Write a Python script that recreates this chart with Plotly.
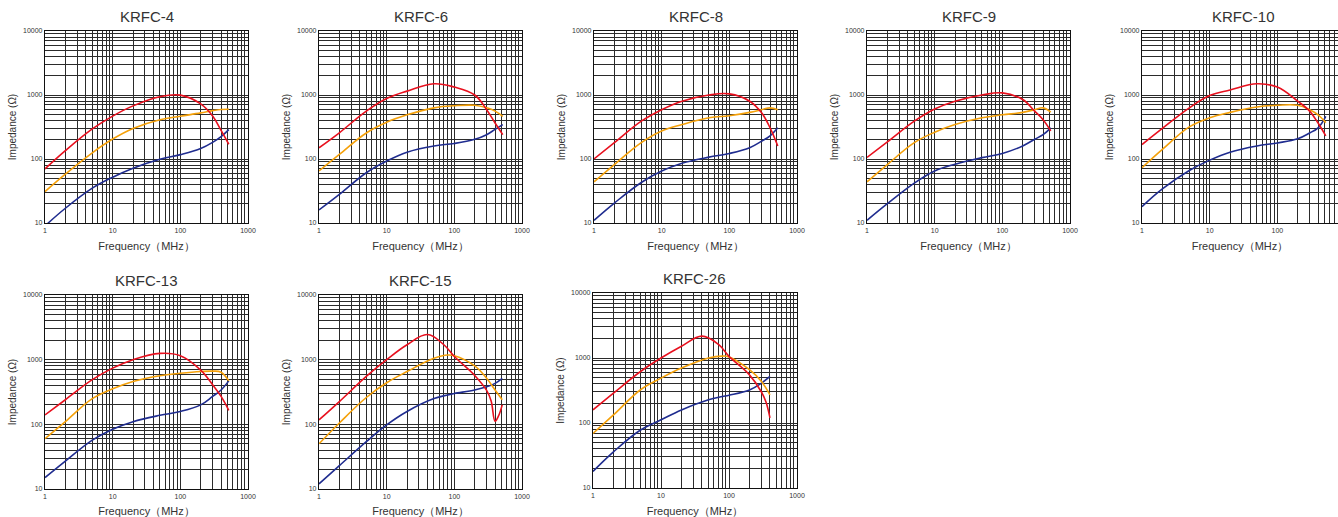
import plotly.graph_objects as go

# ---------------- data ----------------
TITLES = ["KRFC-4", "KRFC-6", "KRFC-8", "KRFC-9", "KRFC-10", "KRFC-13", "KRFC-15", "KRFC-26"]
X_TICKS = [1, 10, 100, 1000]
Y_TICKS = [10, 100, 1000, 10000]

F_STD = [1, 2, 5, 10, 20, 50, 100, 200, 300, 400, 520]

KRFC4_Z = [70, 135, 295, 468, 676, 940, 995, 725, 468, 280, 170]
KRFC4_R = [31, 58, 125, 205, 300, 410, 465, 525, 570, 595, 600]
KRFC4_X = [9, 17, 35, 52, 72, 99, 117, 146, 182, 224, 288]

KRFC6_Z = [150, 257, 560, 880, 1150, 1500, 1330, 1000, 590, 365, 240]
KRFC6_R = [65, 118, 255, 375, 490, 630, 680, 690, 630, 560, 465]
KRFC6_X = [16, 28, 61, 93, 128, 160, 175, 203, 240, 290, 345]

KRFC8_Z = [100, 180, 390, 590, 800, 1000, 1040, 800, 526, 307, 160]
KRFC8_R = [44, 82, 180, 274, 345, 440, 475, 535, 590, 630, 590]
KRFC8_X = [11, 20.5, 43, 65, 86, 107, 122, 150, 190, 230, 307]

KRFC9_Z = [106, 185, 390, 605, 800, 1000, 1080, 850, 560, 412, 275]
KRFC9_R = [44, 82, 180, 262, 345, 440, 490, 535, 590, 630, 540]
KRFC9_X = [11, 20, 42, 65, 83, 105, 122, 160, 203, 240, 307]

KRFC10_Z = [168, 300, 630, 980, 1200, 1500, 1330, 800, 560, 365, 230]
KRFC10_R = [73, 141, 317, 440, 535, 650, 690, 690, 590, 490, 370]
KRFC10_X = [18, 34, 66, 96, 128, 160, 178, 207, 255, 307, 465]

KRFC13_Z = [140, 240, 490, 740, 1000, 1250, 1150, 690, 410, 270, 165]
KRFC13_R = [60, 110, 250, 355, 460, 565, 615, 655, 665, 640, 470]
KRFC13_X = [15, 27, 57, 84, 110, 138, 158, 200, 270, 340, 470]

F_15 = [1, 2, 5, 10, 20, 40, 70, 100, 200, 300, 350, 400, 450, 510]
KRFC15_Z = [117, 225, 550, 1000, 1700, 2450, 1700, 1120, 570, 335, 230, 112, 135, 200]
F_15B = [1, 2, 5, 10, 20, 50, 80, 100, 200, 300, 400, 510]
KRFC15_R = [50, 105, 260, 440, 655, 1050, 1180, 1150, 800, 515, 340, 240]
KRFC15_X = [12, 23, 54, 98, 158, 250, 285, 300, 340, 380, 430, 515]

F_26 = [1, 2, 5, 10, 20, 40, 70, 100, 200, 300, 350, 400]
KRFC26_Z = [159, 288, 620, 1000, 1520, 2170, 1620, 1060, 550, 300, 210, 120]
F_26B = [1, 2, 5, 10, 20, 50, 80, 100, 200, 300, 400]
KRFC26_R = [69, 133, 325, 490, 700, 1000, 1070, 1040, 660, 435, 270]
KRFC26_X = [18, 36, 78, 112, 159, 228, 255, 268, 323, 410, 520]

CHARTS = [
    (F_STD, KRFC4_Z, F_STD, KRFC4_R, F_STD, KRFC4_X),
    (F_STD, KRFC6_Z, F_STD, KRFC6_R, F_STD, KRFC6_X),
    (F_STD, KRFC8_Z, F_STD, KRFC8_R, F_STD, KRFC8_X),
    (F_STD, KRFC9_Z, F_STD, KRFC9_R, F_STD, KRFC9_X),
    (F_STD, KRFC10_Z, F_STD, KRFC10_R, F_STD, KRFC10_X),
    (F_STD, KRFC13_Z, F_STD, KRFC13_R, F_STD, KRFC13_X),
    (F_15, KRFC15_Z, F_15B, KRFC15_R, F_15B, KRFC15_X),
    (F_26, KRFC26_Z, F_26B, KRFC26_R, F_26B, KRFC26_X),
]

# ---------------- layout geometry (pixels) ----------------
W, H = 1338, 517
X_PIX = [(45, 248), (319, 522), (594, 797), (867, 1070), (1142, 1338),
         (45, 248), (319, 522), (593, 797)]
Y_PIX = [(31, 223)] * 5 + [(295, 489), (295, 489), (293, 488)]

RED, ORANGE, BLUE = "#e8101e", "#f5a10a", "#1f2c8f"
GRID = "#2b2b2b"
MINOR_X = [m * 10 ** d for d in range(0, 3) for m in range(2, 10)]
MINOR_Y = [m * 10 ** d for d in range(1, 4) for m in range(2, 10)]

fig = go.Figure()
layout = dict(
    width=W, height=H, margin=dict(l=0, r=0, t=0, b=0, autoexpand=False),
    paper_bgcolor="white", plot_bgcolor="white", showlegend=False,
    font=dict(family="Liberation Sans, Arial, sans-serif", color="#333"),
)
annotations = []

for i, (title, chart) in enumerate(zip(TITLES, CHARTS)):
    n = i + 1
    xa = "x" if n == 1 else f"x{n}"
    ya = "y" if n == 1 else f"y{n}"
    fz, z, fr, r, fx, x = chart
    for fv, yv, col in ((fx, x, BLUE), (fr, r, ORANGE), (fz, z, RED)):
        fig.add_trace(go.Scatter(x=fv, y=yv, mode="lines", xaxis=xa, yaxis=ya,
                                 line=dict(color=col, width=1.6, shape="spline", smoothing=1.1),
                                 hoverinfo="x+y"))
    x0, x1 = X_PIX[i]
    y0, y1 = Y_PIX[i]
    xdom = [x0 / W, min(1.0, x1 / W)]
    ydom = [1 - y1 / H, 1 - y0 / H]
    xr = [0, 3] if x1 < W else [0, 3 * (x1 - x0) / 203.0]
    layout["xaxis" if n == 1 else f"xaxis{n}"] = dict(
        type="log", range=xr, domain=xdom, anchor=ya, automargin=False,
        tickvals=X_TICKS, ticktext=[str(v) for v in X_TICKS],
        ticks="", tickfont=dict(size=7, color="#333"),
        showgrid=True, gridcolor=GRID, gridwidth=1.2,
        minor=dict(tickvals=MINOR_X, showgrid=True, gridcolor=GRID, gridwidth=1.2, ticks=""),
        showline=True, linecolor="#111", linewidth=1.2, mirror=True,
        zeroline=False, fixedrange=True,
        title=dict(text="Frequency（MHz）", font=dict(size=11, color="#333"), standoff=9),
    )
    layout["yaxis" if n == 1 else f"yaxis{n}"] = dict(
        type="log", range=[1, 4], domain=ydom, anchor=xa, automargin=False,
        tickvals=Y_TICKS, ticktext=[str(v) for v in Y_TICKS],
        ticks="", tickfont=dict(size=7, color="#333"),
        showgrid=True, gridcolor=GRID, gridwidth=1.2,
        minor=dict(tickvals=MINOR_Y, showgrid=True, gridcolor=GRID, gridwidth=1.2, ticks=""),
        showline=True, linecolor="#111", linewidth=1.2, mirror=True,
        zeroline=False, fixedrange=True,
        title=dict(text="Impedance (Ω)", font=dict(size=10, color="#333"), standoff=4),
    )
    annotations.append(dict(
        text=title, xref="paper", yref="paper",
        x=(x0 + (x0 + 203)) / 2 / W, y=1 - (y0 - 15) / H,
        xanchor="center", yanchor="middle", showarrow=False,
        font=dict(size=15, color="#333"),
    ))

layout["annotations"] = annotations
fig.update_layout(**layout)
fig.write_html("out.html", config={"displayModeBar": False},
               post_script="document.body.style.margin='0px';document.body.style.overflow='hidden';")
